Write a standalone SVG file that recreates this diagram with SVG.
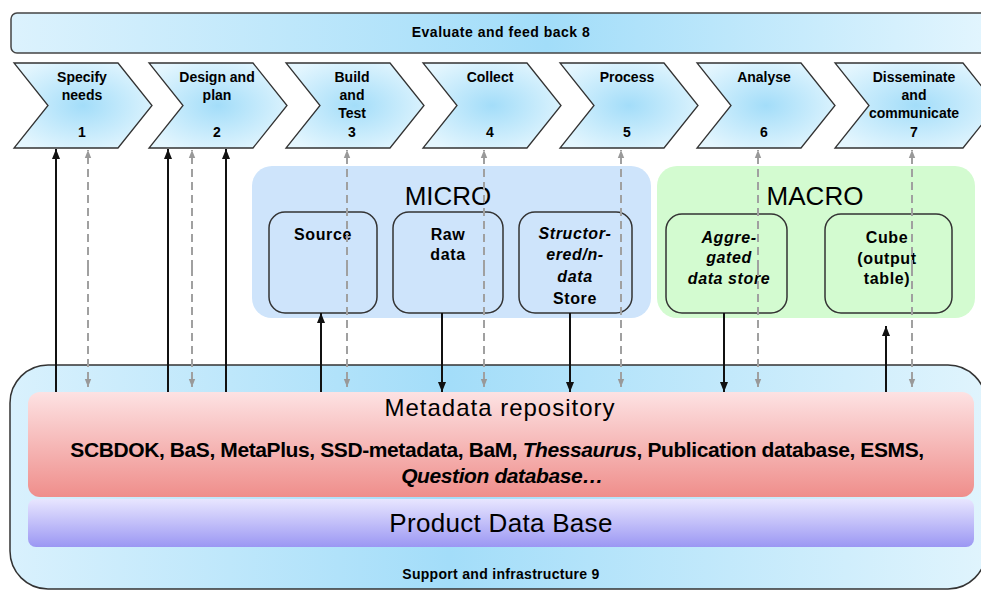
<svg xmlns="http://www.w3.org/2000/svg" width="981" height="590" viewBox="0 0 981 590">
<defs>
<linearGradient id="gBar" x1="0" y1="0" x2="1" y2="0">
<stop offset="0" stop-color="#dcf2fd"/>
<stop offset="0.55" stop-color="#a2ddf9"/>
<stop offset="1" stop-color="#e2f5fe"/>
</linearGradient>
<linearGradient id="gSup" x1="0" y1="0" x2="1" y2="0">
<stop offset="0" stop-color="#d9f1fd"/>
<stop offset="0.45" stop-color="#a3ddf9"/>
<stop offset="1" stop-color="#e0f4fd"/>
</linearGradient>
<radialGradient id="gChev" cx="0.5" cy="0.5" r="0.6">
<stop offset="0" stop-color="#a3ddf9"/>
<stop offset="1" stop-color="#e4f6fe"/>
</radialGradient>
<linearGradient id="gMeta" x1="0" y1="0" x2="0" y2="1">
<stop offset="0" stop-color="#fde2e3"/>
<stop offset="1" stop-color="#ef8e8b"/>
</linearGradient>
<linearGradient id="gProd" x1="0" y1="0" x2="0" y2="1">
<stop offset="0" stop-color="#e8e6ff"/>
<stop offset="1" stop-color="#9b97f3"/>
</linearGradient>
<marker id="aBlack" markerUnits="userSpaceOnUse" markerWidth="10" markerHeight="10" viewBox="0 0 10 10" refX="10" refY="5" orient="auto">
<path d="M0,1 L10,5 L0,9 Z" fill="#111"/>
</marker>
<marker id="aGray" markerUnits="userSpaceOnUse" markerWidth="8" markerHeight="8" viewBox="0 0 10 10" refX="10" refY="5" orient="auto">
<path d="M0,1 L10,5 L0,9 Z" fill="#999"/>
</marker>
<style>
.chev{fill:url(#gChev);stroke:#333;stroke-width:1.3}
.lab{font-family:"Liberation Sans",Arial,sans-serif;font-weight:bold;font-size:14px;fill:#000;text-anchor:middle}
.blab{font-family:"Liberation Sans",Arial,sans-serif;font-weight:bold;font-size:16px;fill:#000;text-anchor:middle;letter-spacing:0.6px}
.big{font-family:"Liberation Sans",Arial,sans-serif;fill:#000;text-anchor:middle}
.ibox{fill:none;stroke:#333;stroke-width:1.5}
.solid{stroke:#111;stroke-width:2;fill:none}
.dash{stroke:#a0a0a0;stroke-width:2;stroke-dasharray:8 5;fill:none}
</style>
</defs>

<g id="evaluate">
<rect x="11" y="13" width="975" height="40" rx="6" fill="url(#gBar)" stroke="#444" stroke-width="1.5"/>
<text class="lab" x="501" y="37" letter-spacing="0.5">Evaluate and feed back  8</text>
</g>

<g id="phase1">
<path class="chev" d="M14,63 H118 L152,105.5 L118,148 H14 L48,105.5 Z"/>
<text class="lab" x="82" y="82">Specify</text>
<text class="lab" x="82" y="100">needs</text>
<text class="lab" x="82" y="137">1</text>
</g>
<g id="phase2">
<path class="chev" d="M149,63 H253 L287,105.5 L253,148 H149 L183,105.5 Z"/>
<text class="lab" x="217" y="82">Design and</text>
<text class="lab" x="217" y="100">plan</text>
<text class="lab" x="217" y="137">2</text>
</g>
<g id="phase3">
<path class="chev" d="M286,63 H390 L424,105.5 L390,148 H286 L320,105.5 Z"/>
<text class="lab" x="352" y="82">Build</text>
<text class="lab" x="352" y="100">and</text>
<text class="lab" x="352" y="118">Test</text>
<text class="lab" x="352" y="137">3</text>
</g>
<g id="phase4">
<path class="chev" d="M423,63 H527 L561,105.5 L527,148 H423 L457,105.5 Z"/>
<text class="lab" x="490" y="82">Collect</text>
<text class="lab" x="490" y="137">4</text>
</g>
<g id="phase5">
<path class="chev" d="M560,63 H664 L698,105.5 L664,148 H560 L594,105.5 Z"/>
<text class="lab" x="627" y="82">Process</text>
<text class="lab" x="627" y="137">5</text>
</g>
<g id="phase6">
<path class="chev" d="M697,63 H801 L835,105.5 L801,148 H697 L731,105.5 Z"/>
<text class="lab" x="764" y="82">Analyse</text>
<text class="lab" x="764" y="137">6</text>
</g>
<g id="phase7">
<path class="chev" d="M835,63 H963 L997,105.5 L963,148 H835 L869,105.5 Z"/>
<text class="lab" x="914" y="82">Disseminate</text>
<text class="lab" x="914" y="100">and</text>
<text class="lab" x="914" y="118">communicate</text>
<text class="lab" x="914" y="137">7</text>
</g>

<g id="support">
<rect x="10" y="365" width="976" height="224" rx="38" fill="url(#gSup)" stroke="#333" stroke-width="1.5"/>
<text class="lab" x="501" y="579" font-size="13" letter-spacing="0.3">Support and infrastructure  9</text>
</g>

<g id="metadata">
<rect x="28" y="392" width="946" height="105" rx="12" fill="url(#gMeta)"/>
<text class="big" x="500" y="416" font-size="24" letter-spacing="1">Metadata repository</text>
<text class="big" x="497" y="457" font-size="21" font-weight="bold" letter-spacing="-0.4">SCBDOK, BaS, MetaPlus, SSD-metadata, BaM, <tspan font-style="italic">Thessaurus</tspan>, Publication database, ESMS,</text>
<text class="big" x="502" y="483" font-size="21" font-weight="bold" font-style="italic" letter-spacing="-0.4">Question database…</text>
</g>

<g id="product">
<rect x="28" y="499" width="946" height="48" rx="8" fill="url(#gProd)"/>
<text class="big" x="501" y="532" font-size="26" letter-spacing="0.3">Product Data Base</text>
</g>

<g id="micro">
<rect x="252" y="166" width="399" height="152" rx="20" fill="#cee4fb"/>
<text class="big" x="448" y="205" font-size="26">MICRO</text>
</g>
<g id="macro">
<rect x="657" y="166" width="318" height="152" rx="20" fill="#d3fbd0"/>
<text class="big" x="815" y="205" font-size="26">MACRO</text>
</g>

<g id="source">
<rect class="ibox" x="269" y="212" width="108" height="101" rx="16"/>
<text class="blab" x="323" y="240">Source</text>
</g>
<g id="rawdata">
<rect class="ibox" x="393" y="212" width="110" height="101" rx="16"/>
<text class="blab" x="448" y="240">Raw</text>
<text class="blab" x="448" y="260">data</text>
</g>
<g id="structured">
<rect class="ibox" x="519" y="212" width="113" height="101" rx="16"/>
<text class="blab" x="575" y="239" font-style="italic">Structor-</text>
<text class="blab" x="575" y="260" font-style="italic">ered/n-</text>
<text class="blab" x="575" y="282" font-style="italic">data</text>
<text class="blab" x="575" y="304">Store</text>
</g>
<g id="aggregated">
<rect class="ibox" x="666" y="214" width="121" height="99" rx="16"/>
<text class="blab" x="729" y="243" font-style="italic">Aggre-</text>
<text class="blab" x="729" y="263" font-style="italic">gated</text>
<text class="blab" x="729" y="284" font-style="italic">data store</text>
</g>
<g id="cube">
<rect class="ibox" x="825" y="214" width="127" height="99" rx="16"/>
<text class="blab" x="887" y="243">Cube</text>
<text class="blab" x="887" y="264">(output</text>
<text class="blab" x="887" y="284">table)</text>
</g>

<g id="connectors">
<line class="solid" x1="56" y1="392" x2="56" y2="149" marker-end="url(#aBlack)"/>
<line class="solid" x1="168" y1="392" x2="168" y2="149" marker-end="url(#aBlack)"/>
<line class="solid" x1="226" y1="392" x2="226" y2="149" marker-end="url(#aBlack)"/>
<line class="solid" x1="321" y1="392" x2="321" y2="313" marker-end="url(#aBlack)"/>
<line class="solid" x1="442" y1="313" x2="442" y2="392" marker-end="url(#aBlack)"/>
<line class="solid" x1="570" y1="313" x2="570" y2="392" marker-end="url(#aBlack)"/>
<line class="solid" x1="724" y1="313" x2="724" y2="392" marker-end="url(#aBlack)"/>
<line class="solid" x1="886" y1="392" x2="886" y2="326" marker-end="url(#aBlack)"/>
<line class="dash" x1="88" y1="268" x2="88" y2="150" marker-end="url(#aGray)"/>
<line class="dash" x1="88" y1="268" x2="88" y2="387" marker-end="url(#aGray)"/>
<line class="dash" x1="192" y1="268" x2="192" y2="150" marker-end="url(#aGray)"/>
<line class="dash" x1="192" y1="268" x2="192" y2="387" marker-end="url(#aGray)"/>
<line class="dash" x1="347" y1="268" x2="347" y2="150" marker-end="url(#aGray)"/>
<line class="dash" x1="347" y1="268" x2="347" y2="387" marker-end="url(#aGray)"/>
<line class="dash" x1="484" y1="268" x2="484" y2="150" marker-end="url(#aGray)"/>
<line class="dash" x1="484" y1="268" x2="484" y2="387" marker-end="url(#aGray)"/>
<line class="dash" x1="621" y1="268" x2="621" y2="150" marker-end="url(#aGray)"/>
<line class="dash" x1="621" y1="268" x2="621" y2="387" marker-end="url(#aGray)"/>
<line class="dash" x1="758" y1="268" x2="758" y2="150" marker-end="url(#aGray)"/>
<line class="dash" x1="758" y1="268" x2="758" y2="387" marker-end="url(#aGray)"/>
<line class="dash" x1="912" y1="268" x2="912" y2="150" marker-end="url(#aGray)"/>
<line class="dash" x1="912" y1="268" x2="912" y2="387" marker-end="url(#aGray)"/>
</g>
</svg>
